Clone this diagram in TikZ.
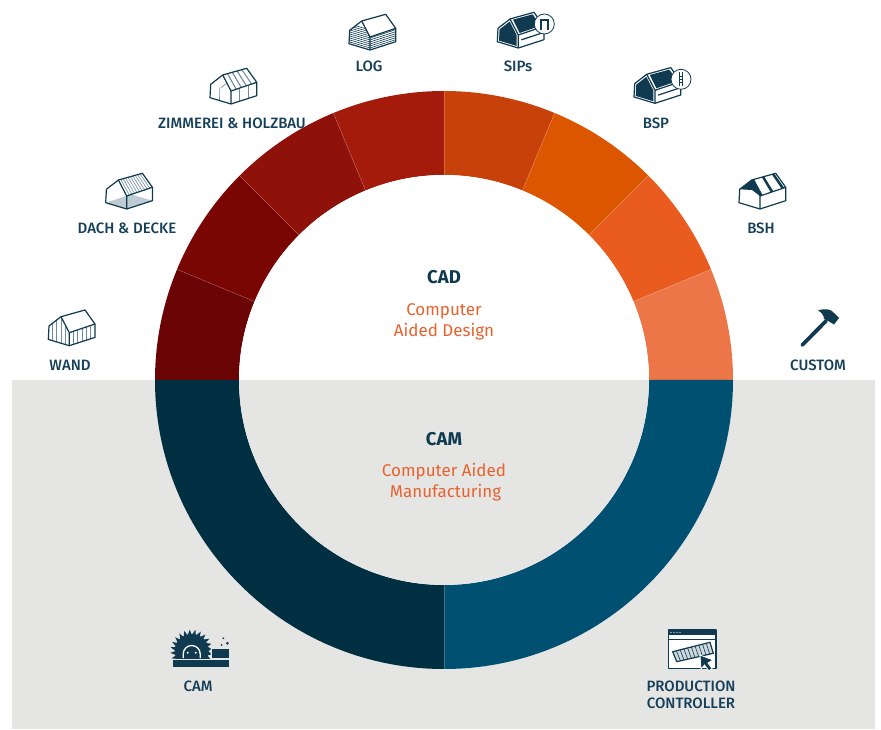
\documentclass[tikz,border=0pt]{standalone}
\usepackage{fontspec}
\setmainfont{Fira Sans}
\newfontfamily\labelfamily{Fira Sans Medium}
\usetikzlibrary{calc}

\definecolor{icondark}{HTML}{0F3A4F}
\definecolor{iconhatch}{HTML}{6F8C9B}
\definecolor{labelblue}{HTML}{16405A}
\definecolor{subtitleorange}{HTML}{E8622E}
\definecolor{panelgray}{HTML}{E5E5E4}
\definecolor{camdark}{HTML}{002F42}
\definecolor{camblue}{HTML}{005072}

\newcommand{\housecoords}{
	\coordinate (A) at (-21,6.3);
	\coordinate (L) at (-20.3,19.7);
	\coordinate (T) at (-8.3,29);
	\coordinate (B) at (0,0);
	\coordinate (E) at (0,13);
	\coordinate (R) at (15.7,35.7);
	\coordinate (Q) at (25.7,21.7);
	\coordinate (S) at (25.7,8.3);
	\fill[white] (A) -- (L) -- (T) -- (R) -- (Q) -- (S) -- (B) -- cycle;
}
\newcommand{\houseoutline}{
	\draw[iconline] (A) -- (L) -- (T) -- (R) -- (Q) -- (S) -- (B) -- cycle;
	\draw[iconline] (B) -- (E) -- (T);
	\draw[iconline] (E) -- (Q);
}
\newcommand{\panelhouse}{
	\housecoords
	\coordinate (G) at (-10.5,13);
	\houseoutline
	\fill[icondark] ($(T)!.09!(Q)$) -- ($(R)!.09!(E)$) -- ($(Q)!.09!(T)$) -- ($(E)!.09!(R)$) -- cycle;
	\fill[icondark] ($(A)!.16!(G)$) -- ($(L)!.16!(G)$) -- ($(T)!.16!(G)$) -- ($(E)!.16!(G)$) -- ($(B)!.16!(G)$) -- cycle;
	\draw[iconline] ($(E)!.45!(B)+(3,1)$) -- ($(Q)!.45!(S)$);
	\fill[white,draw=icondark,line width=0.8pt] (26,24) circle (10);
}

\tikzset{
	iconline/.style={draw=icondark, line width=1.2pt, line join=round},
	hatchline/.style={draw=iconhatch, line width=0.6pt},
	ringpart/.style={draw=white, draw opacity=0.22, line width=0.5pt},
	iconlabel/.style={font=\labelfamily\fontsize{15}{17}\selectfont, text=labelblue, inner sep=0pt, align=center},
	titlelabel/.style={font=\fontsize{18.5}{20}\selectfont\bfseries, text=icondark, inner sep=0pt},
	sublabel/.style={font=\fontsize{17}{21}\selectfont, text=subtitleorange, inner sep=0pt, align=center},
	wandicon/.pic={
		\housecoords
		\foreach \t in {0.17,0.33,0.5,0.67,0.83}
			\draw[hatchline] ($(E)!\t!(Q)$) -- ($(B)!\t!(S)$);
		\begin{scope}
			\clip (A) -- (L) -- (T) -- (E) -- (B) -- cycle;
			\foreach \t in {0.2,0.4,0.6,0.8}
				\draw[hatchline] ($(A)!\t!(B)$) -- ++(0,30);
		\end{scope}
		\houseoutline
	},
	dachicon/.pic={
		\housecoords
		\fill[iconhatch!45] (A) -- (B) -- (S) -- (4.7,14.6) -- cycle;
		\foreach \t in {0.1,0.2,...,0.95}
			\draw[hatchline] ($(T)!\t!(R)$) -- ($(E)!\t!(Q)$);
		\houseoutline
	},
	zimmereiicon/.pic={
		\housecoords
		\foreach \t in {0.2,0.4,0.6,0.8}
			\draw[hatchline, line width=1.1pt] ($(T)!\t!(R)$) -- ($(E)!\t!(Q)$);
		\foreach \t in {0.33,0.67}
			\draw[hatchline, line width=0.9pt] ($(E)!\t!(Q)$) -- ($(B)!\t!(S)$);
		\draw[hatchline] ($(L)!.45!(E)$) -- ($(A)!.45!(B)$);
		\draw[hatchline] ($(L)!.5!(E)$) -- ($(T)!.5!(E)$);
		\houseoutline
	},
	logicon/.pic={
		\housecoords
		\foreach \h in {2,4,...,12}
			\draw[hatchline, draw=icondark] ($(B)+(0,\h)$) -- ($(S)+(0,\h)$);
		\begin{scope}
			\clip (A) -- (L) -- (T) -- (E) -- (B) -- cycle;
			\foreach \h in {2,4,...,20}
				\draw[hatchline, draw=icondark] ($(A)+(0,\h)$) -- ($(B)+(0,\h)$);
		\end{scope}
		\houseoutline
	},
	sipsicon/.pic={
		\panelhouse
		\draw[icondark, line width=1.8pt] (22.5,18) -- (22.5,28) -- (29.5,28) -- (29.5,18);
	},
	bspicon/.pic={
		\panelhouse
		\draw[icondark, line width=0.9pt] (24.7,17) -- (24.7,31) (27.3,17) -- (27.3,31);
		\draw[icondark, line width=0.7pt] (24.7,21) -- (27.3,21) (24.7,24) -- (27.3,24) (24.7,27) -- (27.3,27);
	},
	bshicon/.pic={
		\housecoords
		\fill[icondark] (L) -- (T) -- (E) -- (-8,19) -- cycle;
		\foreach \t in {0,0.42,0.84}
			\fill[icondark] ($(T)!\t!(R)$) -- ($(T)!\t+.1!(R)$) -- ($(E)!\t+.1!(Q)$) -- ($(E)!\t!(Q)$) -- cycle;
		\houseoutline
	},
}

\begin{document}
\begin{tikzpicture}[x=1pt, y=1pt]
	\useasboundingbox (0, 0) rectangle (881, 729);
	\fill[white] (0, 0) rectangle (881, 729);
	\fill[panelgray] (12, 0) rectangle (875, 349);
	%%
	\begin{scope}[shift={(444, 349)}]
		\foreach \a/\c in {180/6B0404, 157.5/7A0604, 135/8F120A, 112.5/A51B0B, 90/C9410A, 67.5/DC5600, 45/EA5B20, 22.5/EC7648} {
			\definecolor{ringcolor}{HTML}{\c}
			\fill[ringcolor] (\a:289) arc[start angle=\a, delta angle=-22.5, radius=289pt] -- (\a-22.5:205) arc[start angle=\a-22.5, delta angle=22.5, radius=205pt] -- cycle;
		}
		\fill[camdark] (180:289) arc[start angle=180, end angle=270, radius=289pt] -- (270:205) arc[start angle=270, end angle=180, radius=205pt] -- cycle;
		\fill[camblue] (270:289) arc[start angle=270, end angle=360, radius=289pt] -- (0:205) arc[start angle=360, end angle=270, radius=205pt] -- cycle;
		%%
		\foreach \a in {157.5, 135, 112.5, 90, 67.5, 45, 22.5, 270}
			\draw[ringpart] (\a:205) -- (\a:289);
		%%
		\fill[white] (205, 0) arc[start angle=0, end angle=180, radius=205pt] -- cycle;
		\fill[panelgray] (-205, 0) arc[start angle=180, end angle=360, radius=205pt] -- cycle;
	\end{scope}
	%%
	\node[titlelabel] (cadtitle) at (444, 452) {CAD};
	\node[sublabel] (cadtext) at (444, 407.5) {Computer\\Aided Design};
	\node[titlelabel] (camtitle) at (444, 290) {CAM};
	\node[sublabel] (camtext) at (444, 246.5) {Computer Aided\\\hspace*{3pt}Manufacturing};
	%%
	\pic at (69.3, 383.3) {wandicon};
	\pic at (126.7, 520) {dachicon};
	\pic at (231, 625) {zimmereiicon};
	\pic at (370, 679) {logicon};
	\pic at (518.3, 681) {sipsicon};
	\pic at (655, 625.7) {bspicon};
	\pic at (760, 520) {bshicon};
	%%
	\node[iconlabel] (wandlabel) at (70, 364) {WAND};
	\node[iconlabel] (dachlabel) at (127, 501) {DACH \& DECKE};
	\node[iconlabel] (zimmereilabel) at (232, 606) {ZIMMEREI \& HOLZBAU};
	\node[iconlabel] (loglabel) at (369, 663) {LOG};
	\node[iconlabel] (sipslabel) at (518, 663) {SIPs};
	\node[iconlabel] (bsplabel) at (656, 606) {BSP};
	\node[iconlabel] (bshlabel) at (761, 501) {BSH};
	\node[iconlabel] (customlabel) at (818, 364) {CUSTOM};
	\node[iconlabel] (camlabel) at (198, 43) {CAM};
	\node[iconlabel] (controllerlabel) at (691, 34.5) {PRODUCTION\\CONTROLLER};
	%%
	% hammer
	\draw[icondark, line width=3.8pt, line cap=round] (802.3, 384) -- (826, 408);
	\fill[icondark] (818, 418.5) .. controls (825, 421) and (831, 420) .. (834, 416) -- (839, 411) -- (834, 404.5) -- (829, 407.5) -- (824, 410) .. controls (824, 414) and (821, 417) .. (818, 418.5) -- cycle;
	%%
	% saw
	\begin{scope}[shift={(191.7, 78)}]
		\clip (-30, -7) rectangle (19, 30);
		\fill[icondark] (0, 0) circle (17);
		\foreach \a in {0, 15, ..., 345}
			\fill[icondark] (\a:16) -- (\a+5:21.5) -- (\a+15:16) -- cycle;
		\draw[white, line width=1.3pt] (-8.5, -7) -- (-8.5, -3) arc[start angle=180, end angle=0, radius=8.5pt] -- (8.5, -7);
		\fill[white] (-4, -1.7) circle (1.1) (4, -1.7) circle (1.1);
	\end{scope}
	\fill[icondark] (172.7, 61.7) rectangle (229, 69);
	\fill[icondark] (211.7, 71.3) rectangle (229, 79.7);
	\fill[icondark] (223.3, 90.7) circle (1) (227.3, 85.7) circle (1.5) (221.7, 84) circle (1);
	%%
	% production controller window
	\fill[white] (668.3, 60.7) rectangle (716, 99);
	\fill[icondark] (668.3, 94) rectangle (716, 99);
	\foreach \x in {671, 674, 677, 680}
		\fill[white] (\x, 96.5) circle (0.7);
	\draw[iconline] (668.3, 60.7) rectangle (716, 99);
	\draw[iconline] (668.3, 89.7) -- (716, 89.7);
	\fill[iconhatch!35] (672.7, 77.3) -- (710, 86.7) -- (713.3, 75.7) -- (676.7, 67.3) -- cycle;
	\foreach \t in {0.1, 0.2, ..., 0.95}
		\draw[hatchline, draw=icondark] ($(672.7, 77.3)!\t!(710, 86.7)$) -- ($(676.7, 67.3)!\t!(713.3, 75.7)$);
	\draw[iconline] (672.7, 77.3) -- (710, 86.7) -- (713.3, 75.7) -- (676.7, 67.3) -- cycle;
	\fill[icondark, draw=white, line width=0.8pt] (700, 74) -- (701, 60) -- (704.5, 64) -- (709, 58) -- (712, 60.5) -- (708, 66) -- (713, 69) -- cycle;
\end{tikzpicture}
\end{document}
